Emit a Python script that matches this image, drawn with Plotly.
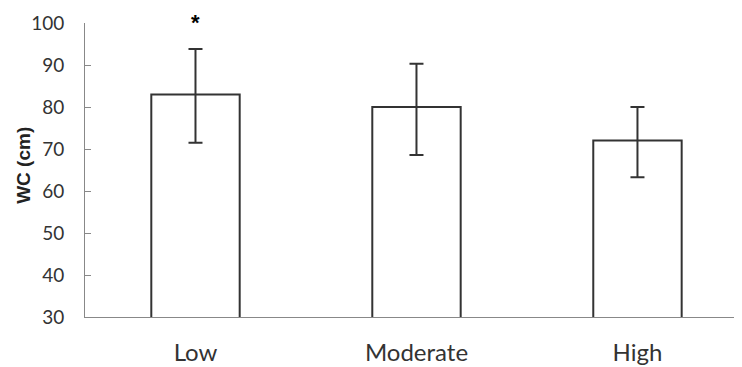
import plotly.graph_objects as go

categories = ["Low", "Moderate", "High"]
wc_mean = [83, 80, 72]
err_plus = [10.8, 10.3, 8.0]
err_minus = [11.5, 11.4, 8.7]
y_ticks = [30, 40, 50, 60, 70, 80, 90, 100]
y_range = [30, 100]
sig_label = "*"
sig_value = 101.2
y_title = "WC (cm)"

fig = go.Figure()
fig.add_trace(go.Bar(
    x=categories, y=wc_mean, base=0,
    width=0.4,
    marker=dict(color="white", line=dict(color="#333333", width=2)),
    error_y=dict(type="data", symmetric=False, array=err_plus, arrayminus=err_minus,
                 color="#333333", thickness=2, width=7),
))
fig.add_annotation(x=categories[0], xref="x",
                   y=(sig_value - y_range[0]) / (y_range[1] - y_range[0]), yref="paper",
                   text="<b>" + sig_label + "</b>", showarrow=False,
                   font=dict(size=22, color="black", family="Liberation Sans"),
                   yanchor="middle", yshift=-5)
fig.add_annotation(x=-0.094, xref="paper", y=0.515, yref="paper",
                   text="<b>" + y_title + "</b>", textangle=-90, showarrow=False,
                   font=dict(size=19, color="#222222", family="Liberation Sans"),
                   xanchor="center", yanchor="middle")

# The page body adds an 8px offset, so the figure is sized/margined to compensate.
fig.update_layout(
    width=734, height=359,
    margin=dict(l=77, r=0, t=15, b=50),
    paper_bgcolor="white", plot_bgcolor="white",
    showlegend=False,
    font=dict(family="Lato", color="#333333"),
    xaxis=dict(type="category", range=[-0.5, 2.473], showline=True, linecolor="#888888",
               linewidth=1, ticks="", showgrid=False, tickfont=dict(size=24),
               ticklabelstandoff=14, automargin=False),
    yaxis=dict(range=y_range, tickvals=y_ticks, showline=True, linecolor="#888888",
               linewidth=1, ticks="inside", ticklen=6, tickcolor="#888888",
               showgrid=False, zeroline=False, tickfont=dict(size=19),
               ticklabelstandoff=16, automargin=False),
)
fig.write_html("out.html")
